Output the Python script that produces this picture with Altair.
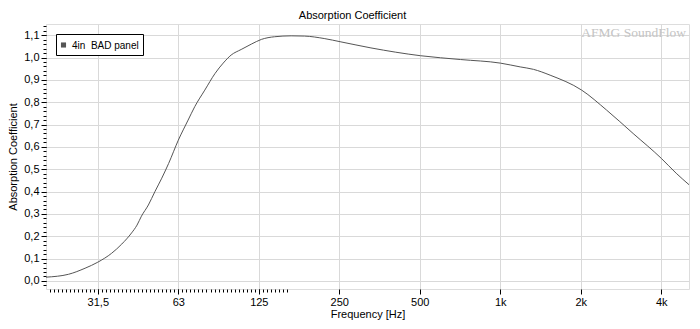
import altair as alt
import pandas as pd

# ---- data ----
freq_hz = [20, 24.3, 28.0, 31.25, 35.2, 38.4, 41.8, 43.8, 45.5, 48.3, 51.1, 54.2, 57.5, 62.5, 68.0, 72.0,
           78.5, 85.8, 92.0, 98.5, 107.4, 117.2, 127.8, 143.3, 165.2, 185.1, 219.5, 253.6,
           328.4, 503.5, 709.6, 1000, 1187, 1331, 1536, 2016, 2497, 3140, 4000, 4550, 5100]
alpha = [0.017, 0.030, 0.057, 0.084, 0.124, 0.165, 0.215, 0.250, 0.290, 0.340, 0.400, 0.460, 0.526, 0.630, 0.720, 0.780,
         0.854, 0.929, 0.975, 1.011, 1.036, 1.060, 1.081, 1.093, 1.097, 1.096, 1.085, 1.070,
         1.043, 1.008, 0.991, 0.975, 0.958, 0.947, 0.921, 0.854, 0.765, 0.660, 0.549, 0.482, 0.429]
series_name = "4in\u00a0 BAD panel"

x_tick_values = [31.25, 62.5, 125, 250, 500, 1000, 2000, 4000]
x_tick_labels = ["31,5", "63", "125", "250", "500", "1k", "2k", "4k"]
y_tick_values = [round(0.1 * i, 1) for i in range(12)]

X_DOMAIN = [20, 5080]
Y_DOMAIN = [-0.036, 1.15]

LINE_COLOR = "#555555"
df = pd.DataFrame({"f": freq_hz, "a": alpha, "s": series_name})

FONT = "Liberation Sans"
FS = 11

x_label_expr = " : ".join(
    [f"abs(datum.value - {v}) < 0.01 ? '{l}'" for v, l in zip(x_tick_values, x_tick_labels)]
) + " : ''"

x_minor = [31.25 * 2 ** (k / 20) for k in range(-13, 48)]
x_minor = [v for v in x_minor if X_DOMAIN[0] <= v <= X_DOMAIN[1]]
y_minor = [round(0.02 * i, 2) for i in range(-1, 58) if Y_DOMAIN[0] <= 0.02 * i <= Y_DOMAIN[1]]

xscale = alt.Scale(type="log", domain=X_DOMAIN, nice=False)
yscale = alt.Scale(domain=Y_DOMAIN, nice=False, zero=False)

line = alt.Chart(df).mark_line(color=LINE_COLOR, strokeWidth=1, clip=True,
                               interpolate="monotone").encode(
    x=alt.X("f:Q", scale=xscale,
            axis=alt.Axis(values=x_tick_values, labelExpr=x_label_expr, title="Frequency [Hz]",
                          tickSize=5, grid=True, gridColor="#d9d9d9", domain=False,
                          labelFont=FONT, labelFontSize=FS, labelColor="black",
                          titleFont=FONT, titleFontSize=FS, titleFontWeight="normal",
                          titleColor="black", labelPadding=2, titlePadding=1,
                          tickColor="black", labelFlush=False)),
    y=alt.Y("a:Q", scale=yscale,
            axis=alt.Axis(values=y_tick_values,
                          labelExpr="replace(format(datum.value, '.1f'), '.', ',')",
                          title="Absorption Coefficient", tickSize=5, grid=True,
                          gridColor="#d9d9d9", domain=False,
                          labelFont=FONT, labelFontSize=FS, labelColor="black",
                          titleFont=FONT, titleFontSize=FS, titleFontWeight="normal",
                          titleColor="black", labelPadding=2, titlePadding=5,
                          tickColor="black")),
)

minor = alt.Chart(df).mark_point(opacity=0).encode(
    x=alt.X("f:Q", scale=xscale,
            axis=alt.Axis(values=x_minor, labels=False, title=None, tickSize=3, grid=False,
                          domain=False, tickColor="black", orient="bottom")),
    y=alt.Y("a:Q", scale=yscale,
            axis=alt.Axis(values=y_minor, labels=False, title=None, tickSize=3, grid=False,
                          domain=False, tickColor="black", orient="left")),
)

# legend box (drawn as an annotation in pixel space of the plot area)
leg_df = pd.DataFrame({"s": [series_name]})
leg_box = alt.Chart(leg_df).mark_rect(fill="white", stroke="black", strokeWidth=1).encode(
    x=alt.value(10.5), x2=alt.value(97.5), y=alt.value(10.5), y2=alt.value(31.5))
leg_sym = alt.Chart(leg_df).mark_square(size=26, color=LINE_COLOR, opacity=1).encode(
    x=alt.value(17.5), y=alt.value(21))
leg_txt = alt.Chart(leg_df).mark_text(align="left", baseline="middle", font=FONT,
                                      fontSize=10, color="black").encode(
    text="s:N", x=alt.value(26), y=alt.value(21.5))

wm = alt.Chart(pd.DataFrame({"t": ["AFMG SoundFlow"]})).mark_text(
    align="right", baseline="alphabetic", font="Liberation Serif", fontSize=13.5,
    color="#c4c4c4"
).encode(text="t:N", x=alt.value(640), y=alt.value(13))

chart = alt.layer(line, minor, wm, leg_box, leg_sym, leg_txt).resolve_axis(
    x="independent", y="independent").properties(
    width=643, height=265,
    title=alt.TitleParams("Absorption Coefficient", font=FONT, fontSize=FS,
                          fontWeight="normal", anchor="middle", offset=3, dx=-15,
                          color="black"),
    autosize=alt.AutoSizeParams(type="none"),
    padding={"left": 38, "top": 16, "right": 3, "bottom": 32},
).configure_view(stroke="black", strokeWidth=1).configure(background="white")

chart.save("out.html", embed_options={"renderer": "svg", "actions": False})
